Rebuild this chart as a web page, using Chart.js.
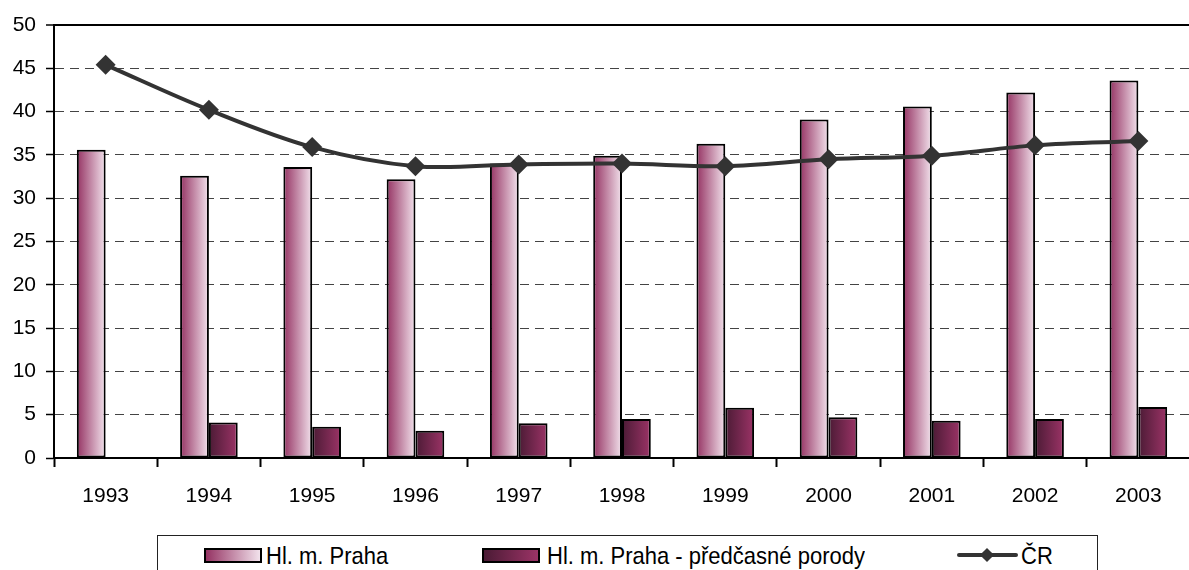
<!DOCTYPE html>
<html>
<head>
<meta charset="utf-8">
<script src="https://cdn.jsdelivr.net/npm/chart.js@4.4.1/dist/chart.umd.min.js"></script>
<style>
  body { margin: 0; width: 1189px; height: 570px; overflow: hidden; background: #fff;
         font-family: "Liberation Sans", Arial, sans-serif; position: relative; }
  #graf { position: absolute; left: 0; top: 0; }
  #legenda { position: absolute; left: 157px; top: 535px; width: 941px; height: 60px;
             border: 1.5px solid #222; box-sizing: border-box; }
  .polozka { position: absolute; font-size: 22px; line-height: 22px; color: #000; white-space: nowrap;
             transform: scaleY(1.1); transform-origin: 0 0; }
  .box { position: absolute; top: 548px; width: 58px; height: 15px; border: 2px solid #000; box-sizing: border-box; }
  .b1 { left: 204px; background: linear-gradient(to right, #953363, #f2e2ec); }
  .b2 { left: 482px; background: linear-gradient(to right, #4b1b35, #9b3366); }
  .cara { position: absolute; left: 957px; top: 553px; width: 61px; height: 4px; background: #333; border-radius: 2px; }
  .kosoctverec { position: absolute; left: 982px; top: 550px; width: 10px; height: 10px; background: #333; transform: rotate(45deg); }
</style>
</head>
<body>
<canvas id="graf" width="1200" height="520"></canvas>
<div id="legenda"></div>
<div class="box b1"></div>
<div class="polozka" style="left:266px; top:544px;">Hl. m. Praha</div>
<div class="box b2"></div>
<div class="polozka" style="left:547px; top:544px;">Hl. m. Praha - předčasné porody</div>
<div class="cara"></div>
<div class="kosoctverec"></div>
<div class="polozka" style="left:1021px; top:544px;">ČR</div>

<script>
// data
const roky = ["1993", "1994", "1995", "1996", "1997", "1998", "1999", "2000", "2001", "2002", "2003"];
const praha = [35.6, 32.6, 33.6, 32.2, 34.0, 34.9, 36.3, 39.1, 40.6, 42.2, 43.6];
const predcasne = [null, 4.1, 3.6, 3.15, 4.0, 4.5, 5.8, 4.7, 4.3, 4.5, 5.9];
const cr = [45.4, 40.2, 35.9, 33.7, 33.9, 34.0, 33.7, 34.5, 34.9, 36.1, 36.6];
const osaY = [0, 5, 10, 15, 20, 25, 30, 35, 40, 45, 50];

const sirkaSkupiny = 58 / 104;

// vodorovný přechod barvy pro každý sloupec zvlášť
function prechod(barvy, posun) {
  return (c) => {
    const chart = c.chart;
    const x = chart.scales.x;
    if (c.type !== "data" || !chart.chartArea || !x) return barvy[1];
    const stred = x.getPixelForValue(c.dataIndex);
    const sirka = (x.width / roky.length) * sirkaSkupiny / 2;
    const x0 = stred + posun * sirka;
    const g = chart.ctx.createLinearGradient(x0, 0, x0 + sirka, 0);
    g.addColorStop(0, barvy[0]);
    g.addColorStop(1, barvy[1]);
    return g;
  };
}

const pismo = { family: "'Liberation Sans', Arial, sans-serif", size: 21 };

new Chart(document.getElementById("graf").getContext("2d"), {
  data: {
    labels: roky,
    datasets: [
      {
        type: "line",
        label: "ČR",
        data: cr,
        order: 0,
        borderColor: "#333",
        borderWidth: 4,
        tension: 0.35,
        pointStyle: "rectRot",
        pointRadius: 10,
        pointBackgroundColor: "#333",
        pointBorderColor: "#333",
        pointBorderWidth: 0
      },
      {
        type: "bar",
        label: "Hl. m. Praha",
        data: praha,
        order: 1,
        backgroundColor: prechod(["#953363", "#f2e2ec"], -1),
        borderColor: "#000",
        borderWidth: 2,
        borderSkipped: false
      },
      {
        type: "bar",
        label: "Hl. m. Praha - předčasné porody",
        data: predcasne,
        order: 1,
        backgroundColor: prechod(["#4b1b35", "#9b3366"], 0),
        borderColor: "#000",
        borderWidth: 2,
        borderSkipped: false
      }
    ]
  },
  options: {
    responsive: false,
    animation: false,
    devicePixelRatio: 1,
    datasets: { bar: { barPercentage: 1, categoryPercentage: sirkaSkupiny } },
    layout: { padding: { left: 12, top: 25, right: 2, bottom: 12 } },
    plugins: { legend: { display: false }, tooltip: { enabled: false } },
    scales: {
      x: {
        offset: true,
        afterFit: (s) => { s.height = 50; },
        grid: { drawOnChartArea: false, offset: true, tickLength: 9, tickColor: "#000", tickWidth: 2 },
        border: { color: "#000", width: 2 },
        ticks: { color: "#000", font: pismo, padding: 17, maxRotation: 0 }
      },
      y: {
        min: 0,
        max: 50,
        afterFit: (s) => { s.width = 42; },
        afterBuildTicks: (s) => { s.ticks = osaY.map(v => ({ value: v })); },
        grid: {
          color: (c) => c.tick && c.tick.value === 50 ? "#000" : "#444",
          lineWidth: (c) => c.tick && c.tick.value === 50 ? 2 : 1,
          tickColor: "#000",
          tickWidth: 1.5,
          tickLength: 8,
          tickBorderDash: []
        },
        border: {
          color: "#000",
          width: 2,
          dash: (c) => (c.tick && c.tick.value !== 50 && c.tick.value !== 0) ? [9, 6] : []
        },
        ticks: { color: "#000", font: pismo, padding: 10 }
      }
    }
  }
});
</script>
</body>
</html>
